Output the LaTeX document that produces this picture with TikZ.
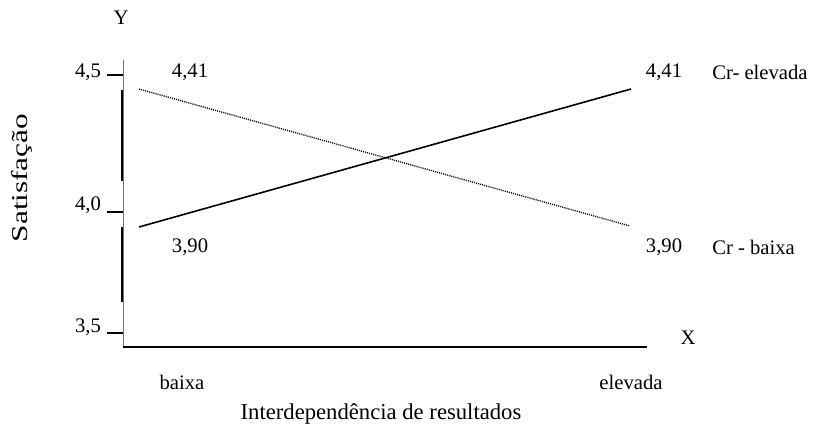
\documentclass[tikz,border=0pt]{standalone}
\usepackage{fontspec}
\setmainfont{Liberation Serif}
\tikzset{
    lbl/.style={font=\fontsize{15.5}{18}\selectfont, inner sep=0pt},
    ttl/.style={font=\fontsize{17}{20}\selectfont, inner sep=0pt},
    eixo/.style={draw=black!55, line width=0.6pt},
    marca/.style={line width=1.1pt},
}
\begin{document}
\begin{tikzpicture}[x=0.75pt, y=-0.75pt]
        \useasboundingbox (0,0) rectangle (813,427);

        % eixos
        \coordinate (o) at (123,347);
        \coordinate (ytop) at (123,60);
        \coordinate (xend) at (647,347);
        \draw[eixo] (ytop) -- (o);
        \draw[line width=1.1pt] (o) -- (xend);
        \draw[marca] (122,90) -- (122,181);
        \draw[marca] (122,227) -- (122,302);
        \draw[marca] (107,75) -- (123,75);
        \draw[marca] (107,212) -- (123,212);
        \draw[marca] (107,333) -- (123,333);

        \node[lbl] (y) at (121,18) {Y};
        \node[lbl] (x) at (688,338) {X};
        \node[lbl] (t45) at (88,72) {4,5};
        \node[lbl] (t40) at (88,205) {4,0};
        \node[lbl] (t35) at (88,327) {3,5};

        % retas
        \coordinate (ea) at (139,227);
        \coordinate (eb) at (631,89);
        \coordinate (ba) at (139,89);
        \coordinate (bb) at (630,226);
        \draw[line width=1.2pt] (ea) -- (eb);
        \draw[line width=1pt, dash pattern=on 0.8pt off 0.8pt] (ba) -- (bb);

        \node[lbl] (v1) at (190,72) {4,41};
        \node[lbl] (v2) at (664,72) {4,41};
        \node[lbl] (v3) at (190,247) {3,90};
        \node[lbl] (v4) at (664,247) {3,90};
        \node[lbl, anchor=west] (cre) at (712,72) {Cr- elevada};
        \node[lbl, anchor=west] (crb) at (712,247) {Cr - baixa};

        \node[lbl] (xb) at (182,382) {baixa};
        \node[lbl] (xe) at (631,382) {elevada};
        \node[ttl] (xt) at (381,414) {Interdependência de resultados};
        \node[ttl, rotate=90] (yt) at (22,178) {\scalebox{1.38}[1]{Satisfação}};
    \end{tikzpicture}
\end{document}
